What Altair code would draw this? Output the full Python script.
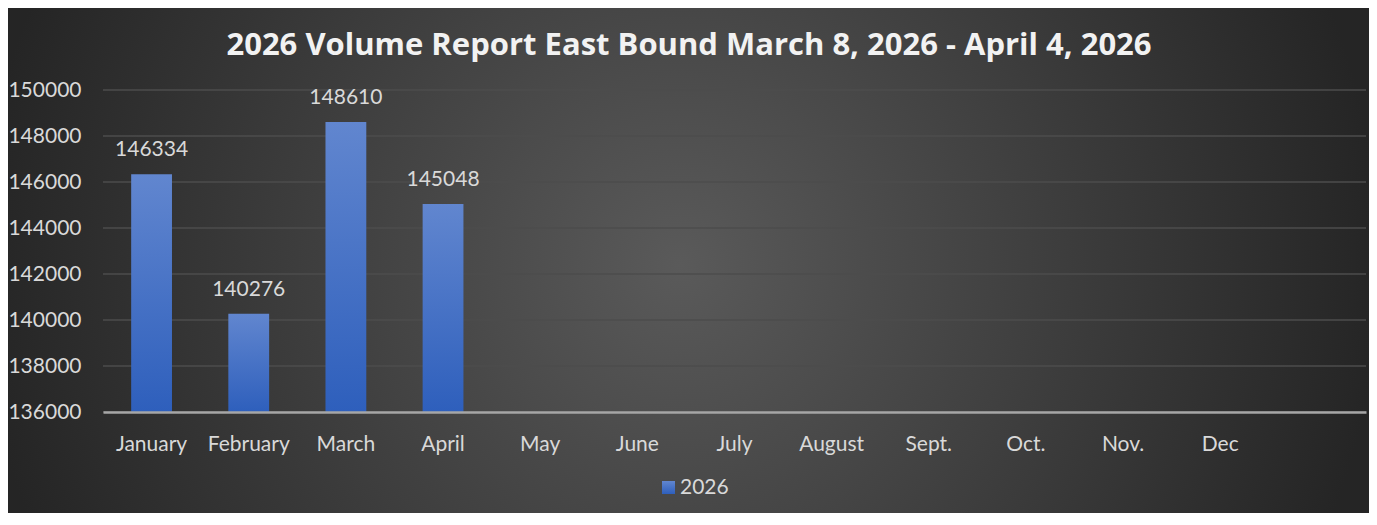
import altair as alt
import pandas as pd

months = ["January", "February", "March", "April", "May", "June", "July",
          "August", "Sept.", "Oct.", "Nov.", "Dec"]
bar_months = ["January", "February", "March", "April"]
volumes = [146334, 140276, 148610, 145048]
series_name = "2026"
y_ticks = [136000, 138000, 140000, 142000, 144000, 146000, 148000, 150000]
title_text = "2026 Volume Report East Bound March 8, 2026 - April 4, 2026"

df = pd.DataFrame({"month": bar_months, "value": volumes, "series": series_name})
ticks_df = pd.DataFrame({"tick": y_ticks})
x_domain = months + [" "]

W, H = 1263, 322
PAD = {"left": 95, "top": 82, "right": 3, "bottom": 101}

label_color = "#d9d9d9"
font = "Lato"
fs = 21

bg_gradient = {
    "gradient": "radial", "x1": 0.5, "y1": 0.5, "r1": 0,
    "x2": 0.5, "y2": 0.5, "r2": 0.5,
    "stops": [{"offset": 0, "color": "#5a5a5a"}, {"offset": 1, "color": "#252525"}],
}
bar_gradient = {
    "gradient": "linear", "x1": 0, "y1": 0, "x2": 0, "y2": 1,
    "stops": [{"offset": 0, "color": "#6186cf"}, {"offset": 1, "color": "#2e5fbc"}],
}

y_scale = alt.Scale(domain=[136000, 150000], nice=False, zero=False)
y_axis = alt.Axis(title=None, values=y_ticks, labelFontSize=fs, labelColor=label_color,
                  labelFont=font, ticks=False, domain=False, grid=False,
                  labelPadding=22, format="d", zindex=1)

background = alt.Chart(alt.Data(values=[{"k": 1}])).mark_rect(fill=bg_gradient).encode(
    x=alt.value(-123), x2=alt.value(1277), y=alt.value(-525), y2=alt.value(875)
)

title = alt.Chart(alt.Data(values=[{"t": title_text}])).mark_text(
    fontSize=31, font="Open Sans", fontWeight="bold", color="#f2f2f2",
    align="center", baseline="alphabetic"
).encode(text="t:N", x=alt.value(586), y=alt.value(-35))

grid = alt.Chart(ticks_df).mark_rule(color="#4d4d4d", strokeWidth=1.5).encode(
    y=alt.Y("tick:Q", scale=y_scale, axis=y_axis)
)

x_enc = alt.X(
    "month:N", sort=None,
    scale=alt.Scale(domain=x_domain, paddingInner=0.58, paddingOuter=0.29),
    axis=alt.Axis(title=None, labelAngle=0, labelFontSize=fs, labelColor=label_color,
                  labelFont=font, ticks=False, domain=True, domainColor="#a6a6a6",
                  domainWidth=2.5, labelPadding=21, grid=False, zindex=2),
)

bars = alt.Chart(df).mark_bar(fill=bar_gradient).encode(
    x=x_enc,
    y=alt.Y("value:Q", scale=y_scale, axis=y_axis),
    y2=alt.datum(136000),
    opacity=alt.Opacity(
        "series:N", scale=alt.Scale(range=[1, 1]),
        legend=alt.Legend(title=None, orient="none", legendX=555, legendY=387,
                          symbolType="square", symbolSize=169, symbolStrokeWidth=0,
                          labelFontSize=fs, labelColor=label_color, labelFont=font,
                          labelOffset=1, padding=0, direction="horizontal"),
    ),
)

labels = alt.Chart(df).mark_text(
    baseline="alphabetic", dy=-18, fontSize=fs, color=label_color, font=font
).encode(
    x=alt.X("month:N", sort=None, scale=alt.Scale(domain=x_domain)),
    y=alt.Y("value:Q", scale=y_scale, axis=y_axis),
    text=alt.Text("value:Q", format="d"),
)

chart = alt.layer(background, title, grid, bars, labels).properties(
    width=W, height=H,
    padding=PAD,
    autosize=alt.AutoSizeParams(type="none"),
    background="#262626",
).configure_view(stroke=None)

chart.save("out.html", embed_options={"renderer": "svg", "actions": False})
